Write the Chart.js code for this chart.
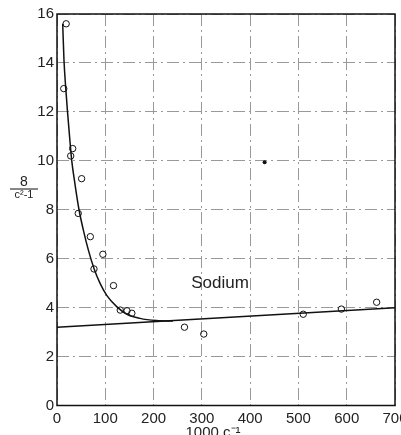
<!DOCTYPE html>
<html><head><meta charset="utf-8">
<script src="https://cdn.jsdelivr.net/npm/chart.js@4/dist/chart.umd.min.js"></script>
<style>html,body{margin:0;padding:0;background:#fff;}#wrap{width:401px;height:435px;position:relative;}</style>
</head><body><div id="wrap"><canvas id="c" width="401" height="435"></canvas></div>
<script>
// Measured points (x = 1000 c^-1, y = 8/(c^2-1))
const pointX = [19, 14, 32.5, 28.4, 51, 44, 69, 95, 76.6, 117, 131, 145, 155, 264, 304, 510, 589, 662];
const pointY = [15.6, 12.95, 10.5, 10.2, 9.27, 7.85, 6.9, 6.18, 5.58, 4.9, 3.9, 3.87, 3.77, 3.2, 2.92, 3.73, 3.94, 4.22];
// Fitted curve
const curveX = [11.8, 14.5, 18, 21.5, 26, 30.4, 37, 45.6, 54.6, 65, 76.6, 89, 103, 123.6, 144, 172, 206, 240];
const curveY = [15.6, 14.1, 13, 12.07, 11, 10.03, 9.08, 8.0, 7.17, 6.35, 5.6, 5.0, 4.5, 4.04, 3.74, 3.56, 3.47, 3.45];
// Straight line
const lineX = [0, 700];
const lineY = [3.2, 4.0];
// Stray dot
const dotX = [430];
const dotY = [9.94];
const xTicks = [0, 100, 200, 300, 400, 500, 600, 700];
const yTicks = [0, 2, 4, 6, 8, 10, 12, 14, 16];

const zip = (xs, ys) => xs.map((x, i) => ({x, y: ys[i]}));

const frame = {
  id: 'frame',
  afterDraw(chart) {
    const {ctx, chartArea: a} = chart;
    ctx.save();
    ctx.strokeStyle = '#111';
    ctx.lineWidth = 1.5;
    ctx.strokeRect(a.left, a.top, a.right - a.left, a.bottom - a.top);
    ctx.fillStyle = '#222';
    ctx.textAlign = 'center';
    ctx.textBaseline = 'middle';
    ctx.font = '17px "Liberation Sans"';
    ctx.fillText('Sodium', 220, 283);
    ctx.font = '14px "Liberation Sans"';
    ctx.fillText('8', 24, 182);
    ctx.font = '11px "Liberation Sans"';
    ctx.fillText('c\u00b2-1', 24, 195);
    ctx.beginPath();
    ctx.lineWidth = 1;
    ctx.moveTo(10, 189); ctx.lineTo(38, 189); ctx.stroke();
    ctx.font = '15px "Liberation Sans"';
    ctx.textBaseline = 'top';
    ctx.fillText('1000 c\u207b\u00b9', 213, 425);
    ctx.restore();
  }
};

const gridOpts = {color: '#999', lineWidth: 1, drawTicks: false};
new Chart(document.getElementById('c'), {
  type: 'scatter',
  data: {
    datasets: [
      {type: 'line', data: zip(curveX, curveY), borderColor: '#111', borderWidth: 1.5, pointRadius: 0, cubicInterpolationMode: 'monotone', fill: false},
      {type: 'line', data: zip(lineX, lineY), borderColor: '#111', borderWidth: 1.5, pointRadius: 0, fill: false},
      {data: zip(pointX, pointY), pointRadius: 3.2, pointBorderWidth: 1, pointBorderColor: '#111', pointBackgroundColor: 'rgba(0,0,0,0)'},
      {data: zip(dotX, dotY), pointRadius: 2, pointBorderWidth: 0, pointBackgroundColor: '#111'}
    ]
  },
  options: {
    responsive: false,
    animation: false,
    layout: {padding: {left: 0, right: 6, top: 14, bottom: 0}},
    plugins: {legend: {display: false}, tooltip: {enabled: false}},
    scales: {
      x: {
        type: 'linear', min: 0, max: 700,
        afterBuildTicks: s => { s.ticks = xTicks.map(v => ({value: v})); },
        afterFit: s => { s.height = 29.5; s.paddingLeft = 0; s.paddingRight = 0; },
        grid: {...gridOpts},
        border: {display: false, dash: [12, 4, 2, 4]},
        ticks: {color: '#222', padding: 4, maxRotation: 0, font: {family: 'Liberation Sans', size: 15}}
      },
      y: {
        type: 'linear', min: 0, max: 16,
        afterBuildTicks: s => { s.ticks = yTicks.map(v => ({value: v})); },
        afterFit: s => { s.width = 57; s.paddingTop = 0; s.paddingBottom = 0; },
        grid: {...gridOpts},
        border: {display: false, dash: [12, 4, 2, 4]},
        ticks: {color: '#222', padding: 3, font: {family: 'Liberation Sans', size: 15}}
      }
    }
  },
  plugins: [frame]
});
</script></body></html>
